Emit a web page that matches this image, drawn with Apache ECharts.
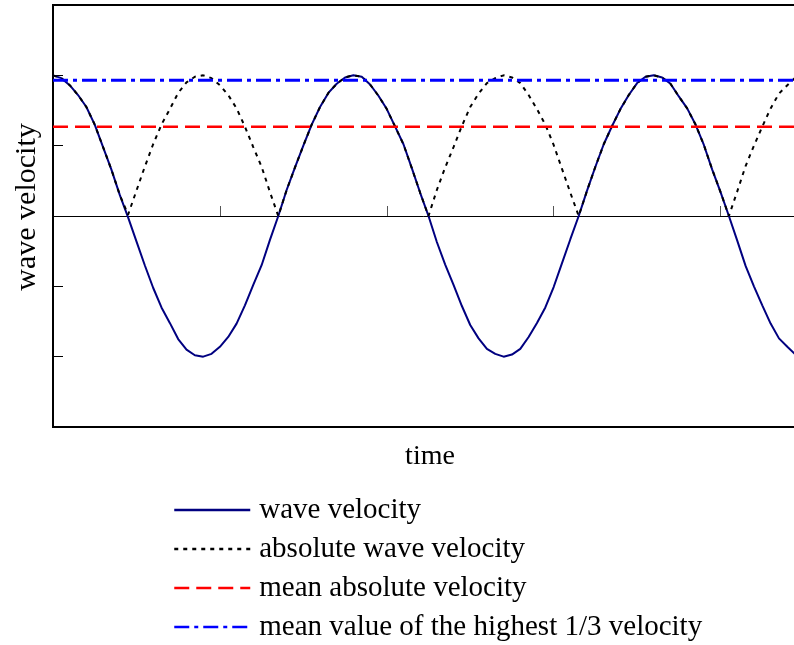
<!DOCTYPE html>
<html>
<head>
<meta charset="utf-8">
<script src="https://cdn.jsdelivr.net/npm/echarts@6/dist/echarts.min.js"></script>
<style>
  html, body { margin: 0; padding: 0; background: #fff; }
  #chart { width: 794px; height: 645px; }
</style>
</head>
<body>
<div id="chart"></div>
<script>
// Sample times (s), one sample every quarter second
const sampleTimes = [
  0, 0.25, 0.5, 0.75, 1, 1.25, 1.5, 1.75, 2, 2.25, 2.5, 2.75, 3, 3.25, 3.5, 3.75,
  4, 4.25, 4.5, 4.75, 5, 5.25, 5.5, 5.75, 6, 6.25, 6.5, 6.75, 7, 7.25, 7.5, 7.75,
  8, 8.25, 8.5, 8.75, 9, 9.25, 9.5, 9.75, 10, 10.25, 10.5, 10.75, 11, 11.25, 11.5, 11.75,
  12, 12.25, 12.5, 12.75, 13, 13.25, 13.5, 13.75, 14, 14.25, 14.5, 14.75, 15, 15.25, 15.5, 15.75,
  16, 16.25, 16.5, 16.75, 17, 17.25, 17.5, 17.75, 18, 18.25, 18.5, 18.75, 19, 19.25, 19.5, 19.75,
  20, 20.25, 20.5, 20.75, 21, 21.25, 21.5, 21.75, 22, 22.25, 22.5
];

// Measured wave velocity at each sample time
const waveVelocity = [
  2.00, 1.96, 1.86, 1.72, 1.55, 1.30, 0.98, 0.66, 0.30, -0.02, -0.36, -0.70,
  -1.02, -1.30, -1.52, -1.75, -1.90, -1.98, -2.00, -1.96, -1.86, -1.72, -1.53, -1.27,
  -0.98, -0.70, -0.34, 0.00, 0.37, 0.69, 1.00, 1.30, 1.55, 1.75, 1.88, 1.97,
  2.00, 1.98, 1.87, 1.71, 1.52, 1.27, 1.02, 0.68, 0.33, 0.00, -0.37, -0.69,
  -0.98, -1.28, -1.55, -1.74, -1.89, -1.96, -2.00, -1.97, -1.89, -1.72, -1.52, -1.30,
  -1.01, -0.67, -0.33, 0.00, 0.36, 0.70, 1.02, 1.28, 1.52, 1.72, 1.89, 1.98,
  2.00, 1.97, 1.88, 1.70, 1.53, 1.30, 1.01, 0.66, 0.34, 0.00, -0.35, -0.71,
  -1.00, -1.27, -1.53, -1.74, -1.86, -1.97, -2.00
];

// Summary statistics drawn as horizontal reference lines
const meanAbsoluteVelocity = 1.27;
const meanHighestThirdVelocity = 1.93;

const timeRange = [0, 22.5];
const timeTicks = [5, 10, 15, 20];
const velocityRange = [-3, 3];

const seriesNames = [
  'wave velocity',
  'absolute wave velocity',
  'mean absolute velocity',
  'mean value of the highest 1/3 velocity'
];

const waveData = sampleTimes.map((t, i) => [t, waveVelocity[i]]);
const absData = sampleTimes.map((t, i) => [t, Math.abs(waveVelocity[i])]);
const meanAbsData = timeRange.map(t => [t, meanAbsoluteVelocity]);
const highThirdData = timeRange.map(t => [t, meanHighestThirdVelocity]);

const serif = 'Liberation Serif, Times New Roman, serif';

const chart = echarts.init(document.getElementById('chart'), null, { renderer: 'canvas' });
chart.setOption({
  animation: false,
  backgroundColor: '#fff',
  grid: {
    left: 53, top: 5, width: 751, height: 422,
    outerBoundsMode: 'none', containLabel: false,
    show: true, borderColor: '#000', borderWidth: 2, backgroundColor: 'transparent'
  },
  xAxis: {
    type: 'value',
    min: timeRange[0], max: timeRange[1],
    axisLine: { onZero: true, lineStyle: { color: '#000', width: 1 } },
    axisTick: { show: true, inside: true, length: 10, customValues: timeTicks,
      lineStyle: { color: '#555', width: 1 } },
    axisLabel: { show: false },
    splitLine: { show: false }
  },
  yAxis: {
    type: 'value',
    min: velocityRange[0], max: velocityRange[1], interval: 1,
    axisLine: { show: true, lineStyle: { color: '#000', width: 2 } },
    axisTick: { show: true, inside: true, length: 10, lineStyle: { color: '#000', width: 1 } },
    axisLabel: { show: false },
    splitLine: { show: false }
  },
  legend: {
    orient: 'vertical',
    left: 173, top: 495, padding: 0,
    itemWidth: 76, itemHeight: 14, itemGap: 9,
    selectedMode: false,
    data: seriesNames,
    itemStyle: { opacity: 0 },
    lineStyle: { width: 2.5 },
    textStyle: { fontFamily: serif, fontSize: 29, color: '#000', lineHeight: 30,
      padding: [0, 0, 0, 4] }
  },
  graphic: [
    { type: 'text', x: 430, y: 457,
      style: { text: 'time', font: '28px ' + serif, fill: '#000',
        textAlign: 'center', textVerticalAlign: 'middle' } },
    { type: 'text', x: 27, y: 207, rotation: Math.PI / 2,
      style: { text: 'wave velocity', font: '30px ' + serif, fill: '#000',
        textAlign: 'center', textVerticalAlign: 'middle' } }
  ],
  series: [
    {
      name: seriesNames[0], type: 'line', data: waveData,
      symbol: 'none', smooth: false,
      lineStyle: { color: '#000080', width: 2 },
      itemStyle: { color: '#000080' }
    },
    {
      name: seriesNames[1], type: 'line', data: absData,
      symbol: 'none', smooth: false,
      lineStyle: { color: '#000', width: 2, type: [4, 5] },
      itemStyle: { color: '#000' }
    },
    {
      name: seriesNames[2], type: 'line', data: meanAbsData,
      symbol: 'none',
      lineStyle: { color: '#ff0000', width: 2.5, type: [15, 7] },
      itemStyle: { color: '#ff0000' }
    },
    {
      name: seriesNames[3], type: 'line', data: highThirdData,
      symbol: 'none',
      lineStyle: { color: '#0000ff', width: 3, type: [15, 5, 4, 5] },
      itemStyle: { color: '#0000ff' }
    }
  ]
});
</script>
</body>
</html>
